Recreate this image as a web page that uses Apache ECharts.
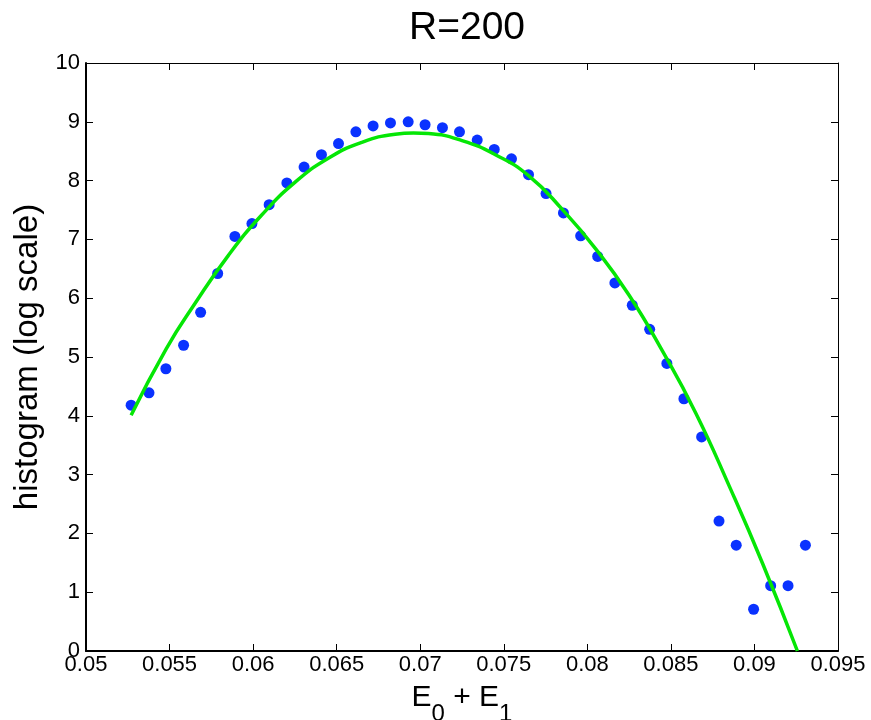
<!DOCTYPE html>
<html>
<head>
<meta charset="utf-8">
<script src="https://cdn.jsdelivr.net/npm/echarts@6/dist/echarts.min.js"></script>
<style>
html,body{margin:0;padding:0;background:#fff;}
#chart{width:871px;height:720px;}
</style>
</head>
<body>
<div id="chart"></div>
<script>
// Histogram points (x = E0+E1, y = log of counts)
const pointX = [0.0527, 0.05377, 0.05478, 0.05584, 0.05686, 0.05788, 0.05891, 0.05993, 0.06096, 0.06202,
  0.06305, 0.06409, 0.06511, 0.06615, 0.06718, 0.06822, 0.06928, 0.07029, 0.07133, 0.07235,
  0.07341, 0.07443, 0.07546, 0.07648, 0.07753, 0.07857, 0.0796, 0.08062, 0.08165, 0.08269,
  0.08373, 0.08476, 0.08578, 0.08684, 0.08788, 0.08891, 0.08995, 0.09097, 0.09201, 0.09305];
const pointY = [4.18, 4.39, 4.80, 5.20, 5.76, 6.42, 7.05, 7.27, 7.59, 7.96,
  8.23, 8.44, 8.63, 8.83, 8.93, 8.98, 9.00, 8.95, 8.90, 8.83,
  8.69, 8.53, 8.37, 8.10, 7.78, 7.45, 7.06, 6.71, 6.26, 5.88,
  5.47, 4.89, 4.29, 3.64, 2.21, 1.80, 0.71, 1.11, 1.11, 1.80];

// Fitted curve
const fitX = [0.0527, 0.0548, 0.0565, 0.0585, 0.0605, 0.0625, 0.0645, 0.0665, 0.0685, 0.0696,
  0.0705, 0.0725, 0.0745, 0.0765, 0.0785, 0.0805, 0.0825, 0.0845, 0.0865, 0.0885,
  0.0905, 0.09257];
const fitY = [4.01, 5.14, 5.90, 6.72, 7.41, 7.97, 8.38, 8.65, 8.79, 8.81,
  8.80, 8.68, 8.44, 8.08, 7.51, 6.84, 6.05, 5.10, 4.04, 2.80,
  1.48, 0.0];

const xTickLabels = ['0.05', '0.055', '0.06', '0.065', '0.07', '0.075', '0.08', '0.085', '0.09', '0.095'];
const yTickLabels = ['0', '1', '2', '3', '4', '5', '6', '7', '8', '9', '10'];

const FONT = "'Liberation Sans', Arial, Helvetica, sans-serif";
const chart = echarts.init(document.getElementById('chart'), null, {renderer: 'canvas'});

const points = pointX.map((x, i) => [x, pointY[i]]);
const fit = fitX.map((x, i) => [x, fitY[i]]);

const tickStyle = {show: true, inside: true, length: 7, lineStyle: {color: '#000', width: 1}};

chart.setOption({
  animation: false,
  backgroundColor: '#fff',
  title: {
    text: 'R=200',
    left: 462,
    textAlign: 'center',
    top: 4,
    textStyle: {fontFamily: FONT, fontSize: 39, fontWeight: 'normal', color: '#000'}
  },
  grid: {left: 86, right: 33, top: 63, bottom: 69, containLabel: false, outerBoundsMode: 'none'},
  xAxis: [{
    type: 'value',
    position: 'bottom',
    min: 0.05, max: 0.095, interval: 0.005,
    axisLine: {show: true, onZero: false, lineStyle: {color: '#000', width: 2}},
    axisTick: tickStyle,
    splitLine: {show: false},
    axisLabel: {
      margin: 3, color: '#000', fontFamily: FONT, fontSize: 22,
      formatter: function (v) { return xTickLabels[Math.round((v - 0.05) / 0.005)]; }
    },
    name: '{e|E}{s|0}{e| + E}{s|1}',
    nameLocation: 'middle',
    nameGap: 32,
    nameTextStyle: {
      color: '#000',
      rich: {
        e: {fontFamily: FONT, fontSize: 30, lineHeight: 30, verticalAlign: 'top', color: '#000'},
        s: {fontFamily: FONT, fontSize: 24, lineHeight: 62, verticalAlign: 'middle', color: '#000'}
      }
    }
  }, {
    type: 'value',
    position: 'top',
    min: 0.05, max: 0.095, interval: 0.005,
    axisLine: {show: true, onZero: false, lineStyle: {color: '#000', width: 1}},
    axisTick: tickStyle,
    axisLabel: {show: false},
    splitLine: {show: false}
  }],
  yAxis: [{
    type: 'value',
    position: 'left',
    min: 0, max: 10, interval: 1,
    axisLine: {show: true, onZero: false, lineStyle: {color: '#000', width: 2}},
    axisTick: tickStyle,
    splitLine: {show: false},
    axisLabel: {
      margin: 6, color: '#000', fontFamily: FONT, fontSize: 22,
      formatter: function (v) { return yTickLabels[Math.round(v)]; }
    },
    name: 'histogram (log scale)',
    nameLocation: 'middle',
    nameGap: 36,
    nameTextStyle: {fontFamily: FONT, fontSize: 33, color: '#000'}
  }, {
    type: 'value',
    position: 'right',
    min: 0, max: 10, interval: 1,
    axisLine: {show: true, onZero: false, lineStyle: {color: '#000', width: 1}},
    axisTick: tickStyle,
    axisLabel: {show: false},
    splitLine: {show: false}
  }],
  series: [{
    type: 'scatter',
    data: points,
    symbol: 'circle',
    symbolSize: 11,
    itemStyle: {color: '#0a32ff', opacity: 1},
    xAxisIndex: 0, yAxisIndex: 0,
    z: 2
  }, {
    type: 'line',
    data: fit,
    showSymbol: false,
    smooth: true,
    lineStyle: {color: '#05e605', width: 3.5},
    xAxisIndex: 0, yAxisIndex: 0,
    z: 3
  }]
});
</script>
</body>
</html>
